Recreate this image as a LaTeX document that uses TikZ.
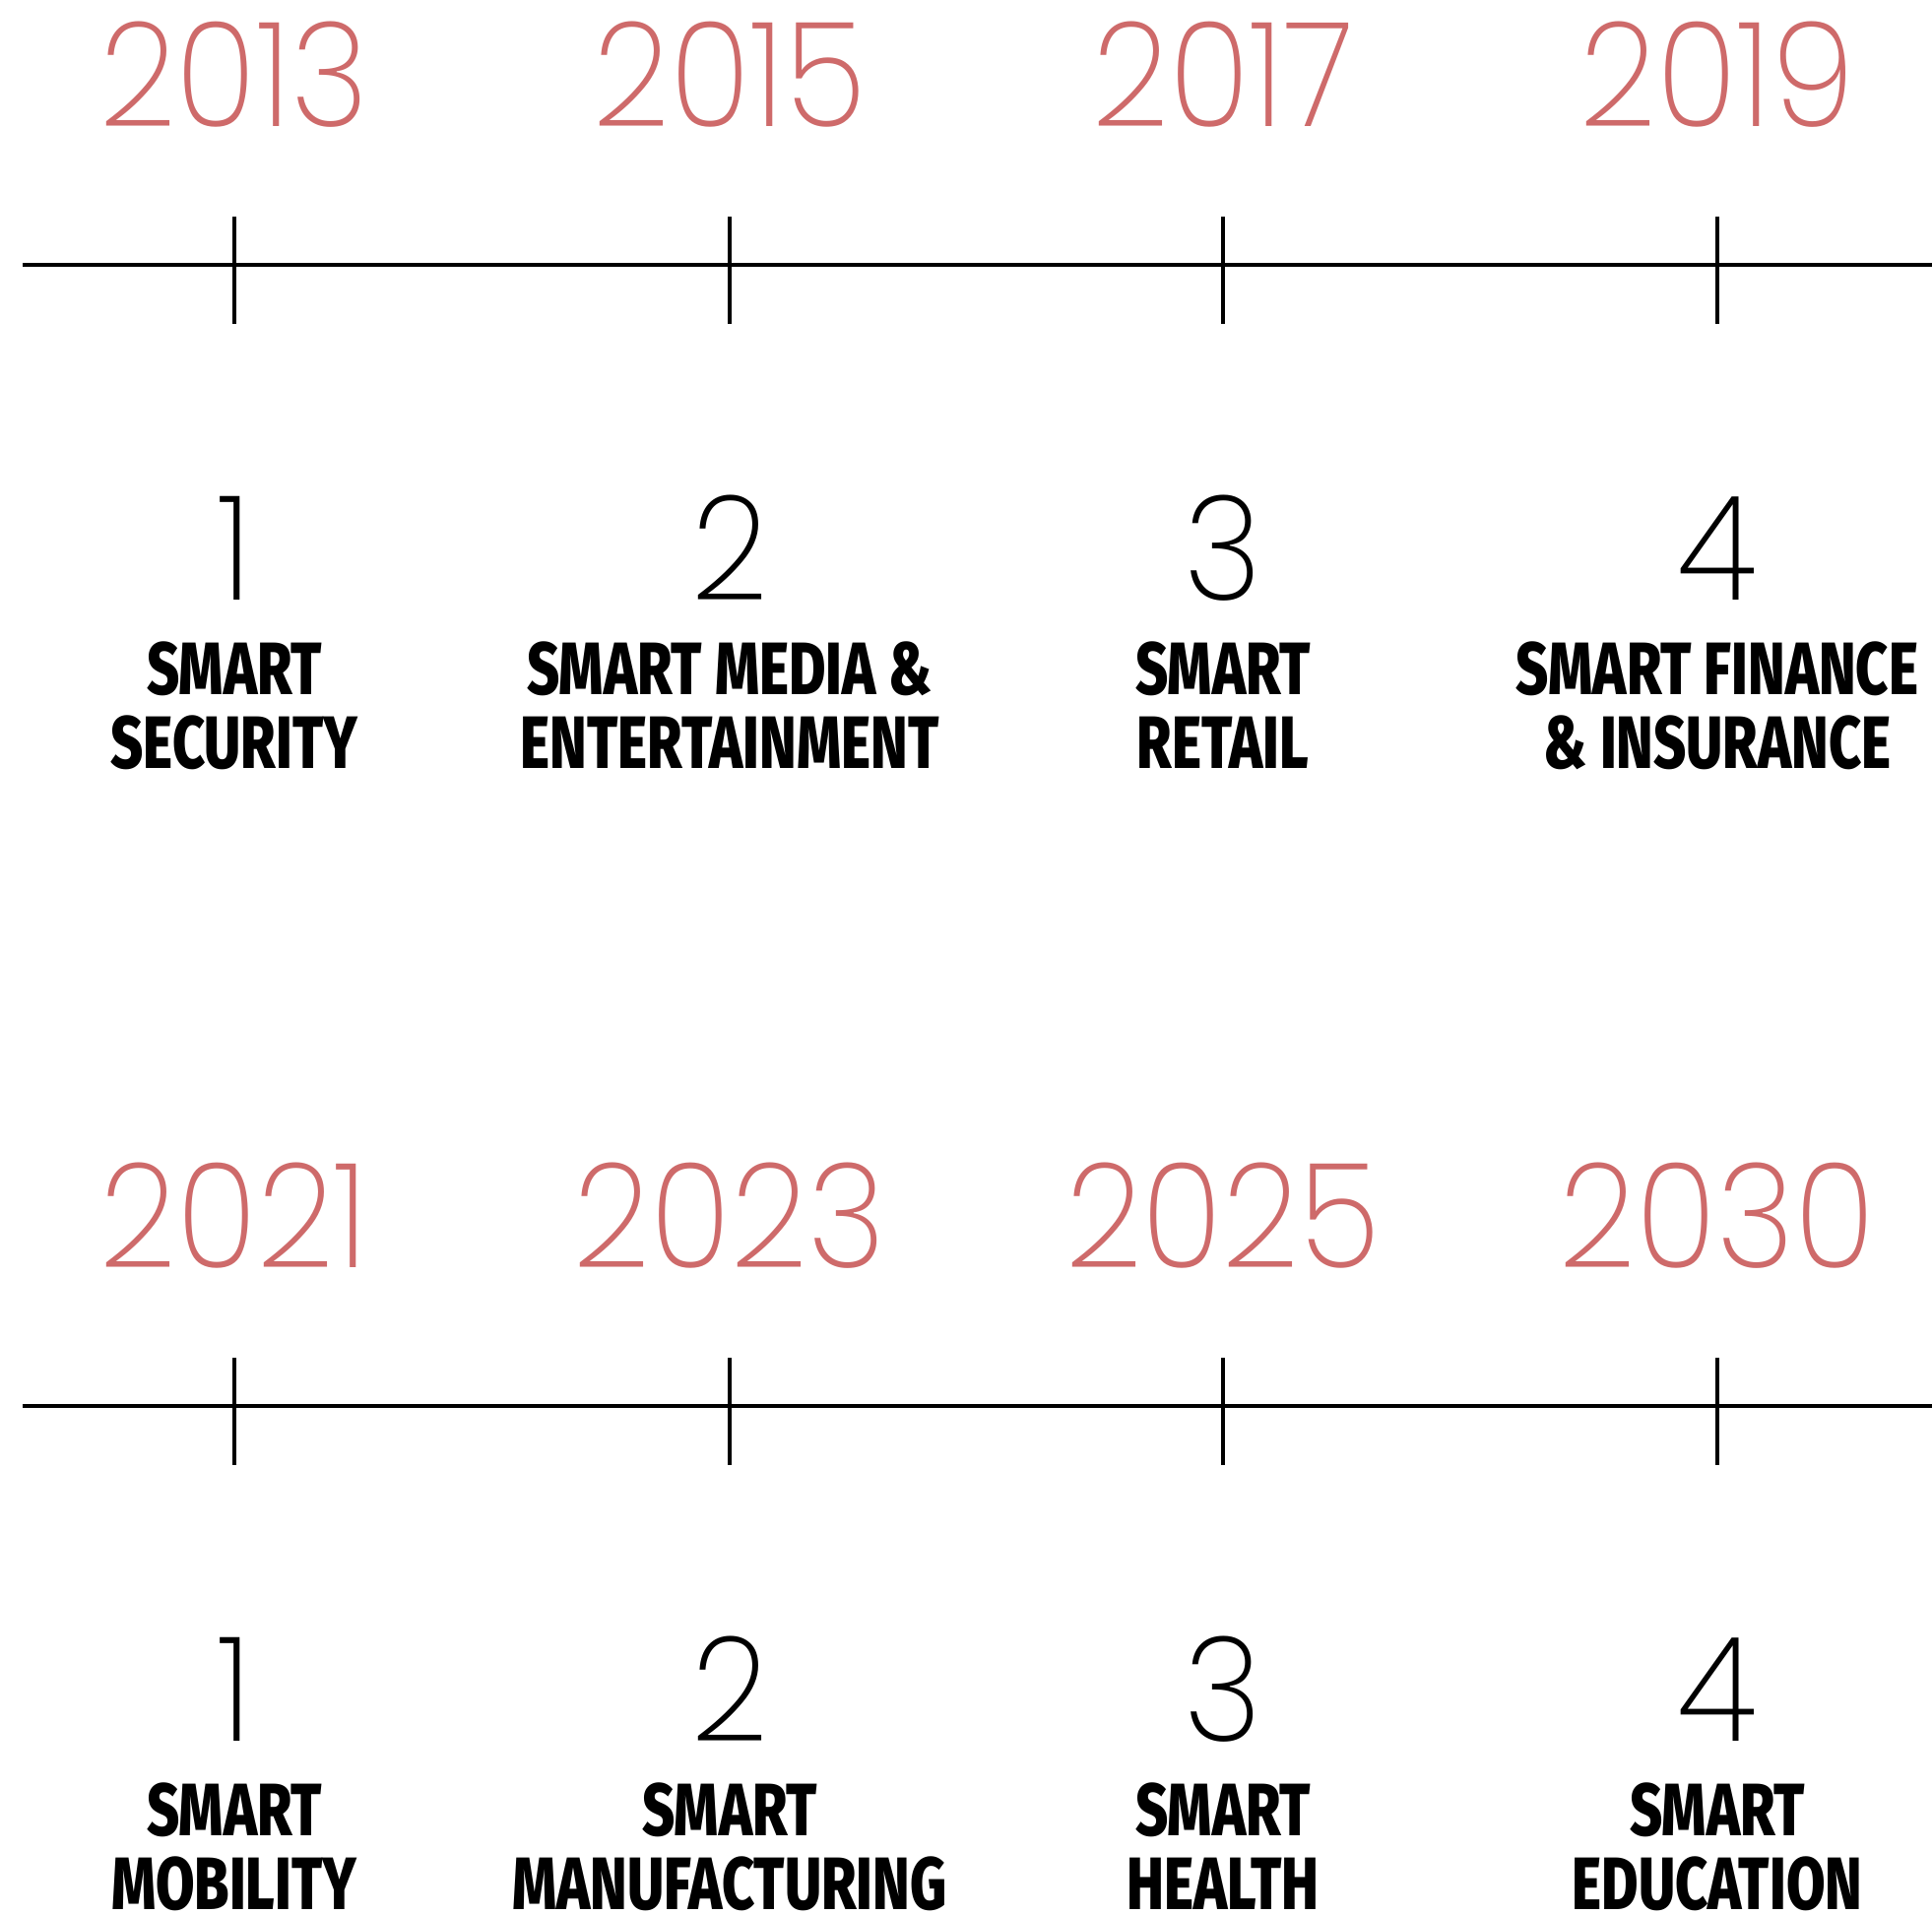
\documentclass[tikz,border=0pt]{standalone}
\usepackage{fontspec}
\usepackage{tikz}
\newfontfamily\yearfont[FakeStretch=0.92]{Poppins ExtraLight}
\newfontfamily\labelfont[FakeStretch=0.76]{Fira Sans ExtraBold}
\definecolor{yearred}{RGB}{206,106,106}

\begin{document}
\begin{tikzpicture}[x=0.5pt, y=-0.5pt,
    year/.style = {anchor=base, inner sep=0pt, text=yearred, font=\yearfont\fontsize{74}{80}\selectfont},
    num/.style = {anchor=base, inner sep=0pt, font=\yearfont\fontsize{74}{80}\selectfont},
    field/.style = {anchor=north, inner sep=0pt, align=center, font=\labelfont\fontsize{37.7}{37.5}\selectfont},
    timeline/.style = {line width=1.6pt},
    yearmark/.style = {line width=1.6pt}]
    \useasboundingbox (0,0) rectangle (1962,1944);
    % the two time lines
    \foreach \row in {0,1} {
        \pgfmathsetmacro\dy{\row*1159}
        \coordinate (axis\row a) at (23,269+\dy);
        \coordinate (axis\row b) at (1962,269+\dy);
        \draw[timeline] (axis\row a) -- (axis\row b);
    }
    % years, numbers and fields
    \foreach \x/\yr/\n/\txt/\row [count=\i] in {
        238/2013/1/{SMART\\SECURITY}/0,
        741/2015/2/{SMART MEDIA \&\\ENTERTAINMENT}/0,
        1242/2017/3/{SMART\\RETAIL}/0,
        1744/2019/4/{SMART FINANCE\\\& INSURANCE}/0,
        238/2021/1/{SMART\\MOBILITY}/1,
        741/2023/2/{SMART\\MANUFACTURING}/1,
        1242/2025/3/{SMART\\HEALTH}/1,
        1744/2030/4/{SMART\\EDUCATION}/1} {
        \pgfmathsetmacro\dy{\row*1159}
        \node[year] (year\i) at (\x,128+\dy) {\yr};
        \coordinate (tick\i a) at (\x,220+\dy);
        \coordinate (tick\i b) at (\x,329+\dy);
        \draw[yearmark] (tick\i a) -- (tick\i b);
        \node[num] (num\i) at (\x,609+\dy) {\n};
        \node[field] (field\i) at (\x,651+\dy) {\txt};
    }
\end{tikzpicture}
\end{document}
